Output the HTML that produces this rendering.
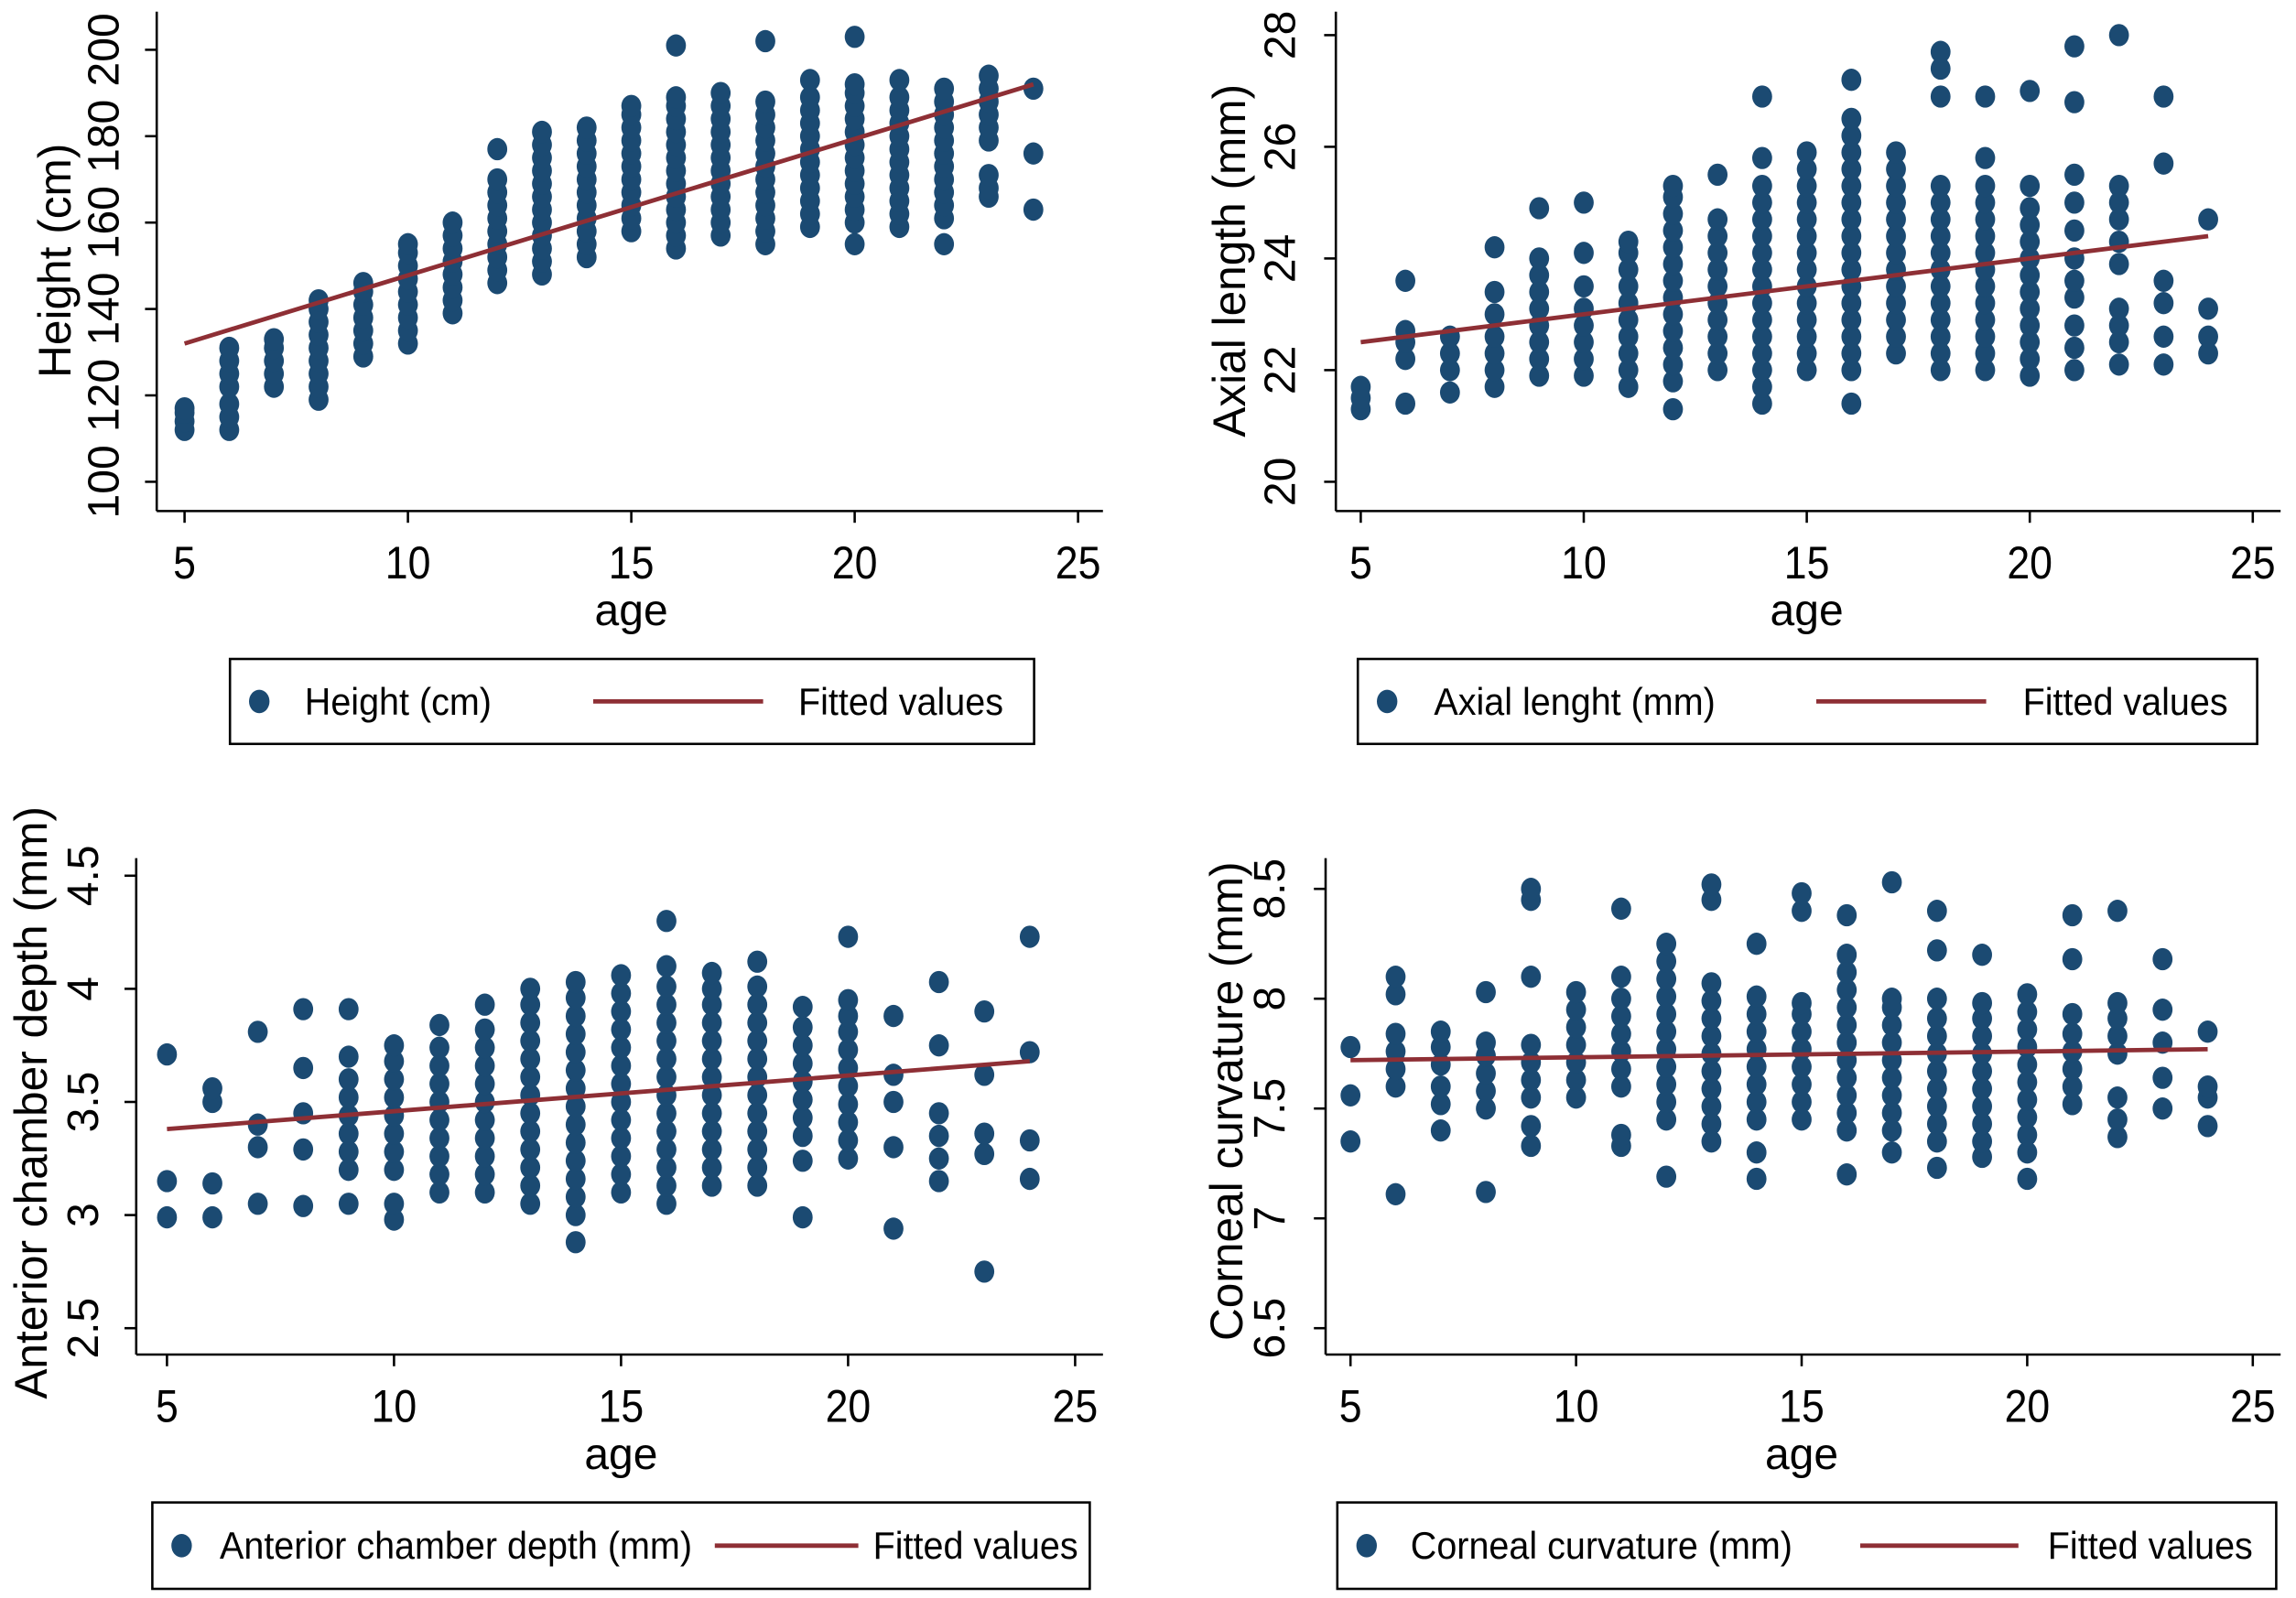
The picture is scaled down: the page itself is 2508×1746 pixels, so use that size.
<!DOCTYPE html>
<html><head><meta charset="utf-8"><style>
html,body{margin:0;padding:0;background:#fff;}
svg{display:block;}
text{font-family:"Liberation Sans",sans-serif;fill:#000;}
</style></head><body>
<svg id="fig" width="2508" height="1746" viewBox="0 0 1567.5 1091.25"></svg>
<script>
const ages = [5,6,7,8,9,10,11,12,13,14,15,16,17,18,19,20,21,22,23,24];
const xTicks = [5,10,15,20,25];

const heightVals = [
 [112,114,116,117],
 [112,115,118,122,125,128,131],
 [122,125,128,131,133],
 [119,122,125,128,131,134,137,140,142],
 [129,132,135,138,141,144,146],
 [132,135,138,141,144,147,150,153,155],
 [139,142,145,148,151,154,157,160],
 [146,149,152,155,158,161,164,167,170,177],
 [148,151,154,157,160,163,166,169,172,175,178,181],
 [152,155,158,161,164,167,170,173,176,179,182],
 [158,161,164,167,170,173,176,179,182,185,187],
 [154,157,160,163,166,169,172,175,178,181,184,187,189,201],
 [157,160,163,166,169,172,175,178,181,184,187,190],
 [155,158,161,164,167,170,173,176,179,182,185,188,202],
 [159,162,165,168,171,174,177,180,183,186,189,193],
 [155,160,163,166,169,172,175,178,181,184,187,190,192,203],
 [159,162,165,168,171,174,177,180,183,186,189,193],
 [155,161,164,167,170,173,176,179,182,185,188,191],
 [166,168,171,179,182,185,188,191,194],
 [163,176,191]
];
const heightFit = [132,192];
const heightTicks = [100,120,140,160,180,200];

const axialVals = [
 [21.3,21.5,21.7],
 [21.4,22.2,22.5,22.7,23.6],
 [21.6,22.0,22.3,22.6],
 [21.7,22.0,22.3,22.6,23.0,23.4,24.2],
 [21.9,22.2,22.5,22.8,23.1,23.4,23.7,24.0,24.9],
 [21.9,22.2,22.5,22.8,23.1,23.5,24.1,25.0],
 [21.7,22.0,22.3,22.6,22.9,23.2,23.5,23.8,24.1,24.3],
 [21.3,21.8,22.1,22.4,22.7,23.0,23.3,23.6,23.9,24.2,24.5,24.8,25.1,25.3],
 [22.0,22.3,22.6,22.9,23.2,23.5,23.8,24.1,24.4,24.7,25.5],
 [21.4,21.7,22.0,22.3,22.6,22.9,23.2,23.5,23.8,24.1,24.4,24.7,25.0,25.3,25.8,26.9],
 [22.0,22.3,22.6,22.9,23.2,23.5,23.8,24.1,24.4,24.7,25.0,25.3,25.6,25.9],
 [21.4,22.0,22.3,22.6,22.9,23.2,23.5,23.8,24.1,24.4,24.7,25.0,25.3,25.6,25.9,26.2,26.5,27.2],
 [22.3,22.6,22.9,23.2,23.5,23.8,24.1,24.4,24.7,25.0,25.3,25.6,25.9],
 [22.0,22.3,22.6,22.9,23.2,23.5,23.8,24.1,24.4,24.7,25.0,25.3,26.9,27.4,27.7],
 [22.0,22.3,22.6,22.9,23.2,23.5,23.8,24.1,24.4,24.7,25.0,25.3,25.8,26.9],
 [21.9,22.2,22.5,22.8,23.1,23.4,23.7,24.0,24.3,24.6,24.9,25.3,27.0],
 [22.0,22.4,22.8,23.3,23.6,24.0,24.5,25.0,25.5,26.8,27.8],
 [22.1,22.5,22.8,23.1,23.9,24.3,24.7,25.0,25.3,28.0],
 [22.1,22.6,23.2,23.6,25.7,26.9],
 [22.3,22.6,23.1,24.7]
];
const axialFit = [22.5,24.4];
const axialTicks = [20,22,24,26,28];

const acdVals = [
 [2.99,3.15,3.71],
 [2.99,3.14,3.50,3.56],
 [3.05,3.30,3.40,3.81],
 [3.04,3.29,3.45,3.65,3.91],
 [3.05,3.20,3.28,3.36,3.44,3.52,3.60,3.70,3.91],
 [2.98,3.05,3.20,3.28,3.36,3.44,3.52,3.60,3.68,3.75],
 [3.10,3.18,3.26,3.34,3.42,3.50,3.58,3.66,3.74,3.84],
 [3.10,3.18,3.26,3.34,3.42,3.50,3.58,3.66,3.74,3.82,3.93],
 [3.05,3.13,3.21,3.29,3.37,3.45,3.53,3.61,3.69,3.77,3.85,3.93,4.00],
 [2.88,3.00,3.08,3.16,3.24,3.32,3.40,3.48,3.56,3.64,3.72,3.80,3.88,3.96,4.03],
 [3.10,3.18,3.26,3.34,3.42,3.50,3.58,3.66,3.74,3.82,3.90,3.98,4.06],
 [3.05,3.13,3.21,3.29,3.37,3.45,3.53,3.61,3.69,3.77,3.85,3.93,4.01,4.10,4.30],
 [3.13,3.21,3.29,3.37,3.45,3.53,3.61,3.69,3.77,3.85,3.93,4.00,4.07],
 [3.13,3.21,3.29,3.37,3.45,3.53,3.61,3.69,3.77,3.85,3.93,4.01,4.12],
 [2.99,3.24,3.35,3.43,3.51,3.59,3.67,3.75,3.83,3.92],
 [3.25,3.33,3.41,3.49,3.57,3.65,3.73,3.81,3.88,3.95,4.23],
 [2.94,3.30,3.50,3.62,3.88],
 [3.15,3.25,3.35,3.45,3.75,4.03],
 [2.75,3.27,3.36,3.62,3.90],
 [3.16,3.33,3.72,4.23]
];
const acdFit = [3.38,3.68];
const acdTicks = [2.5,3,3.5,4,4.5];
const acdTickLabels = ["2.5","3","3.5","4","4.5"];

const ccVals = [
 [7.35,7.56,7.78],
 [7.11,7.60,7.68,7.76,7.84,8.02,8.10],
 [7.40,7.52,7.60,7.70,7.78,7.85],
 [7.12,7.50,7.58,7.66,7.74,7.80,8.03],
 [7.33,7.42,7.55,7.63,7.71,7.79,8.10,8.45,8.50],
 [7.55,7.63,7.71,7.79,7.87,7.95,8.03],
 [7.33,7.38,7.60,7.68,7.76,7.84,7.92,8.00,8.10,8.41],
 [7.19,7.45,7.53,7.61,7.69,7.77,7.85,7.93,8.01,8.09,8.17,8.25],
 [7.35,7.43,7.51,7.59,7.67,7.75,7.83,7.91,7.99,8.07,8.45,8.52],
 [7.18,7.30,7.45,7.53,7.61,7.69,7.77,7.85,7.93,8.01,8.25],
 [7.45,7.53,7.61,7.69,7.77,7.85,7.93,7.98,8.40,8.48],
 [7.20,7.40,7.48,7.56,7.64,7.72,7.80,7.88,7.96,8.04,8.12,8.20,8.38],
 [7.30,7.40,7.48,7.56,7.64,7.72,7.80,7.88,7.96,8.00,8.53],
 [7.23,7.35,7.43,7.51,7.59,7.67,7.75,7.83,7.91,8.00,8.22,8.40],
 [7.28,7.35,7.43,7.51,7.59,7.67,7.75,7.83,7.91,7.98,8.20],
 [7.18,7.30,7.38,7.46,7.54,7.62,7.70,7.78,7.86,7.94,8.02],
 [7.52,7.60,7.68,7.76,7.84,7.93,8.18,8.38],
 [7.37,7.45,7.55,7.75,7.83,7.91,7.98,8.40],
 [7.50,7.64,7.80,7.95,8.18],
 [7.42,7.55,7.60,7.85]
];
const ccFit = [7.72,7.77];
const ccTicks = [6.5,7,7.5,8,8.5];
const ccTickLabels = ["6.5","7","7.5","8","8.5"];

const NS = "http://www.w3.org/2000/svg";
const svg = document.getElementById('fig');
const BLUE = "#1b4a72", RED = "#8e2f35";
function mk(tag, attrs, parent){
  const e = document.createElementNS(NS, tag);
  for (const k in attrs) e.setAttribute(k, attrs[k]);
  (parent||svg).appendChild(e);
  return e;
}

function panel(cfg){
  const g = mk('g', {});
  
  
  const xs = v => cfg.x5 + (v-5)/20*(cfg.x25-cfg.x5);
  const ys = v => cfg.yLo + (v-cfg.vLo)/(cfg.vHi-cfg.vLo)*(cfg.yHi-cfg.yLo);
  const ya = mk('line',{x1:cfg.ax,y1:cfg.top,x2:cfg.ax,y2:cfg.base,stroke:'#000','stroke-width':1.6},g);
  
  
  const xa = mk('line',{x1:cfg.ax,y1:cfg.base,x2:cfg.right,y2:cfg.base,stroke:'#000','stroke-width':1.6},g);
  
  
  xTicks.forEach(t=>{
    const X = xs(t);
    mk('line',{x1:X,y1:cfg.base,x2:X,y2:cfg.base+8,stroke:'#000','stroke-width':1.6},g);
    const tx = mk('text',{x:X,y:cfg.base+46,'font-size':31,'text-anchor':'middle',transform:`translate(${X},0) scale(0.9,1) translate(${-X},0)`},g);
    tx.textContent = t;
    
    
  });
  cfg.yt.forEach((t,i)=>{
    const Y = ys(t);
    mk('line',{x1:cfg.ax-8,y1:Y,x2:cfg.ax,y2:Y,stroke:'#000','stroke-width':1.6},g);
    const tx = mk('text',{x:0,y:0,'font-size':30,'text-anchor':'middle',transform:`translate(${cfg.lblX},${Y}) rotate(-90)`},g);
    tx.textContent = cfg.ytl ? cfg.ytl[i] : t;
    
    
  });
  const yt = mk('text',{x:0,y:0,'font-size':31,'text-anchor':'middle',transform:`translate(${cfg.titleX},${cfg.titleY}) rotate(-90)`},g);
  yt.textContent = cfg.ytitle;
  
  
  const cx = (cfg.x5+cfg.x25)/2;
  const xt = mk('text',{x:cx,y:cfg.base+78,'font-size':30,'text-anchor':'middle'},g);
  xt.textContent = 'age';
  
  
  ages.forEach((a,i)=>{
    cfg.vals[i].forEach(v=>{
      const c = mk('ellipse',{cx:xs(a),cy:ys(v),rx:6.8,ry:7.6,fill:BLUE},g);
      
      
    });
  });
  const fl = mk('line',{x1:xs(ages[0]),y1:ys(cfg.fit[0]),x2:xs(ages[ages.length-1]),y2:ys(cfg.fit[1]),stroke:RED,'stroke-width':3},g);
  
  
  const L = cfg.leg;
  const lg = mk('g',{},g);
  
  
  mk('rect',{x:L.x0,y:L.y0,width:L.x1-L.x0,height:L.y1-L.y0,fill:'#fff',stroke:'#000','stroke-width':1.6},lg);
  const my = (L.y0+L.y1)/2;
  const d = mk('ellipse',{cx:L.dot,cy:my,rx:7,ry:8,fill:BLUE},lg);
  
  
  const t1 = mk('text',{x:0,y:0,'font-size':26,transform:`translate(${L.t1},${my+9}) scale(0.95,1)`},lg);
  t1.textContent = cfg.legText;
  
  
  const ll = mk('line',{x1:L.l0,y1:my,x2:L.l1,y2:my,stroke:RED,'stroke-width':3},lg);
  
  
  const t2 = mk('text',{x:0,y:0,'font-size':26,transform:`translate(${L.t2},${my+9}) scale(0.95,1)`},lg);
  t2.textContent = 'Fitted values';
  
  
}

panel({name:'height-panel',ax:107,top:8,base:349,right:753,x5:126,x25:736,vLo:100,vHi:200,yLo:329,yHi:34,
  yt:heightTicks,lblX:81,titleX:48,titleY:178,ytitle:'Height (cm)',vals:heightVals,fit:heightFit,
  legText:'Height (cm)',leg:{x0:157,x1:706,y0:450,y1:508,dot:177,t1:208,l0:405,l1:521,t2:545}});
panel({name:'axial-length-panel',ax:912,top:8,base:349,right:1557,x5:929,x25:1538,vLo:20,vHi:28,yLo:329,yHi:24,
  yt:axialTicks,lblX:884,titleX:850,titleY:178,ytitle:'Axial length (mm)',vals:axialVals,fit:axialFit,
  legText:'Axial lenght (mm)',leg:{x0:927,x1:1541,y0:450,y1:508,dot:947,t1:979,l0:1240,l1:1356,t2:1381}});
panel({name:'acd-panel',ax:93,top:586,base:925,right:753,x5:114,x25:734,vLo:2.5,vHi:4.5,yLo:907,yHi:598,
  yt:acdTicks,ytl:acdTickLabels,lblX:67,titleX:32,titleY:753,ytitle:'Anterior chamber depth (mm)',vals:acdVals,fit:acdFit,
  legText:'Anterior chamber depth (mm)',leg:{x0:104,x1:744,y0:1026,y1:1085,dot:124,t1:150,l0:488,l1:586,t2:596}});
panel({name:'corneal-curvature-panel',ax:905,top:586,base:925,right:1557,x5:922,x25:1538,vLo:6.5,vHi:8.5,yLo:907,yHi:607,
  yt:ccTicks,ytl:ccTickLabels,lblX:877,titleX:848,titleY:752,ytitle:'Corneal curvature (mm)',vals:ccVals,fit:ccFit,
  legText:'Corneal curvature (mm)',leg:{x0:913,x1:1554,y0:1026,y1:1085,dot:933,t1:963,l0:1270,l1:1378,t2:1398}});
</script>
</body></html>
